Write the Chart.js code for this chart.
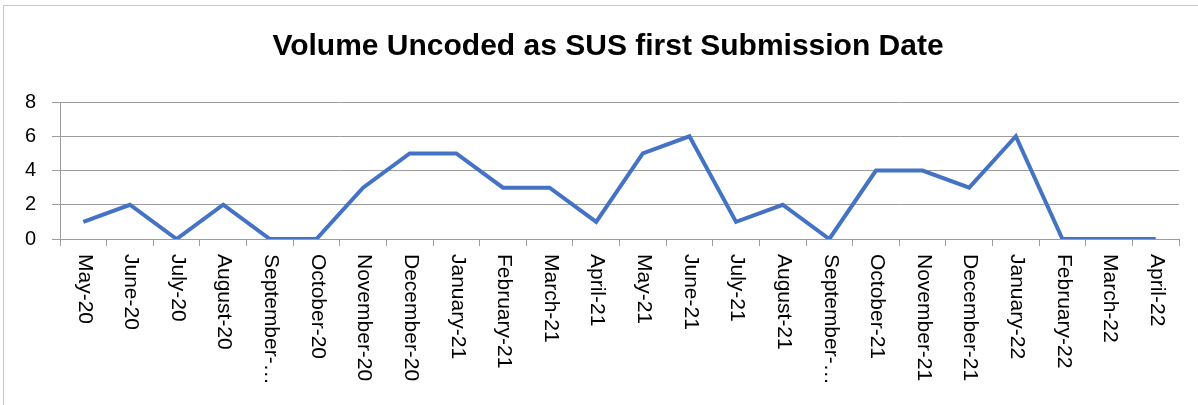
<!DOCTYPE html>
<html>
<head>
<meta charset="utf-8">
<script src="https://cdn.jsdelivr.net/npm/chart.js@4.4.0/dist/chart.umd.min.js"></script>
<style>
  html, body { margin: 0; padding: 0; background: #fff; }
  #wrap { position: relative; width: 1198px; height: 405px; }
  #edgeTop { position: absolute; left: 3px; top: 5px; width: 1195px; height: 1px; background: #c9c9c9; }
  #edgeLeft { position: absolute; left: 3px; top: 5px; width: 1px; height: 400px; background: #c9c9c9; }
</style>
</head>
<body>
<div id="wrap">
  <canvas id="volume-chart" width="1198" height="405"></canvas>
  <div id="edgeTop"></div>
  <div id="edgeLeft"></div>
</div>
<script>
// Maanederne og antal
var months = ["May-20", "June-20", "July-20", "August-20", "September-20", "October-20", "November-20", "December-20",
    "January-21", "February-21", "March-21", "April-21", "May-21", "June-21", "July-21", "August-21",
    "September-21", "October-21", "November-21", "December-21", "January-22", "February-22", "March-22", "April-22"];
var monthLabels = ["May-20", "June-20", "July-20", "August-20", "September-…", "October-20", "November-20", "December-20",
    "January-21", "February-21", "March-21", "April-21", "May-21", "June-21", "July-21", "August-21",
    "September-…", "October-21", "November-21", "December-21", "January-22", "February-22", "March-22", "April-22"];
var volumeUncoded = [1, 2, 0, 2, 0, 0, 3, 5, 5, 3, 3, 1, 5, 6, 1, 2, 0, 4, 4, 3, 6, 0, 0, 0];
var yTicks = [0, 2, 4, 6, 8];
var chartTitle = 'Volume Uncoded as SUS first Submission Date';

var gridGrey = '#9c9c9c';

// Titel tegnes selv, lidt til hoejre for midten som i Excel
var excelTitle = {
    id: 'excelTitle',
    afterDraw: function (chart) {
        var ctx = chart.ctx;
        ctx.save();
        ctx.fillStyle = '#000';
        ctx.font = 'bold 30px "Liberation Sans", Arial, sans-serif';
        ctx.textAlign = 'center';
        ctx.textBaseline = 'middle';
        ctx.fillText(chartTitle, 608, 47);
        ctx.restore();
    }
};

// Tegner x-labels drejet nedad som i Excel
var downLabels = {
    id: 'downLabels',
    afterDraw: function (chart) {
        var scale = chart.scales.x;
        var ctx = chart.ctx;
        ctx.save();
        ctx.fillStyle = '#000';
        ctx.font = '21px "Liberation Sans", Arial, sans-serif';
        ctx.textAlign = 'left';
        ctx.textBaseline = 'middle';
        for (var i = 0; i < monthLabels.length; i++) {
            var x = scale.getPixelForTick(i);
            ctx.save();
            ctx.translate(x + 1, scale.top + 15);
            ctx.rotate(Math.PI / 2);
            ctx.fillText(monthLabels[i], 0, 0);
            ctx.restore();
        }
        ctx.restore();
    }
};

var ctx = document.getElementById('volume-chart').getContext('2d');
var chart = new Chart(ctx, {
    type: 'line',
    data: {
        labels: months,
        datasets: [{
            label: 'Volume',
            data: volumeUncoded,
            borderColor: '#4472C4',
            borderWidth: 4,
            pointRadius: 0,
            tension: 0,
            fill: false
        }]
    },
    options: {
        responsive: false,
        animation: false,
        layout: { padding: { left: 0, right: 19, top: 102, bottom: 0 } },
        plugins: {
            legend: { display: false },
            tooltip: { enabled: false },
            title: { display: false }
        },
        scales: {
            x: {
                offset: true,
                grid: { offset: true, drawOnChartArea: false, drawTicks: true, tickLength: 7, color: gridGrey },
                border: { display: true, color: gridGrey },
                ticks: { display: false },
                afterFit: function (scale) { scale.height = 166; }
            },
            y: {
                min: 0,
                max: 8,
                afterBuildTicks: function (scale) {
                    scale.ticks = yTicks.map(function (v) { return { value: v }; });
                },
                grid: { color: gridGrey, tickLength: 8 },
                border: { display: true, color: gridGrey },
                ticks: {
                    color: '#000',
                    padding: 16,
                    font: { family: '"Liberation Sans", Arial, sans-serif', size: 20 }
                },
                afterFit: function (scale) { scale.width = 60; }
            }
        }
    },
    plugins: [excelTitle, downLabels]
});
</script>
</body>
</html>
